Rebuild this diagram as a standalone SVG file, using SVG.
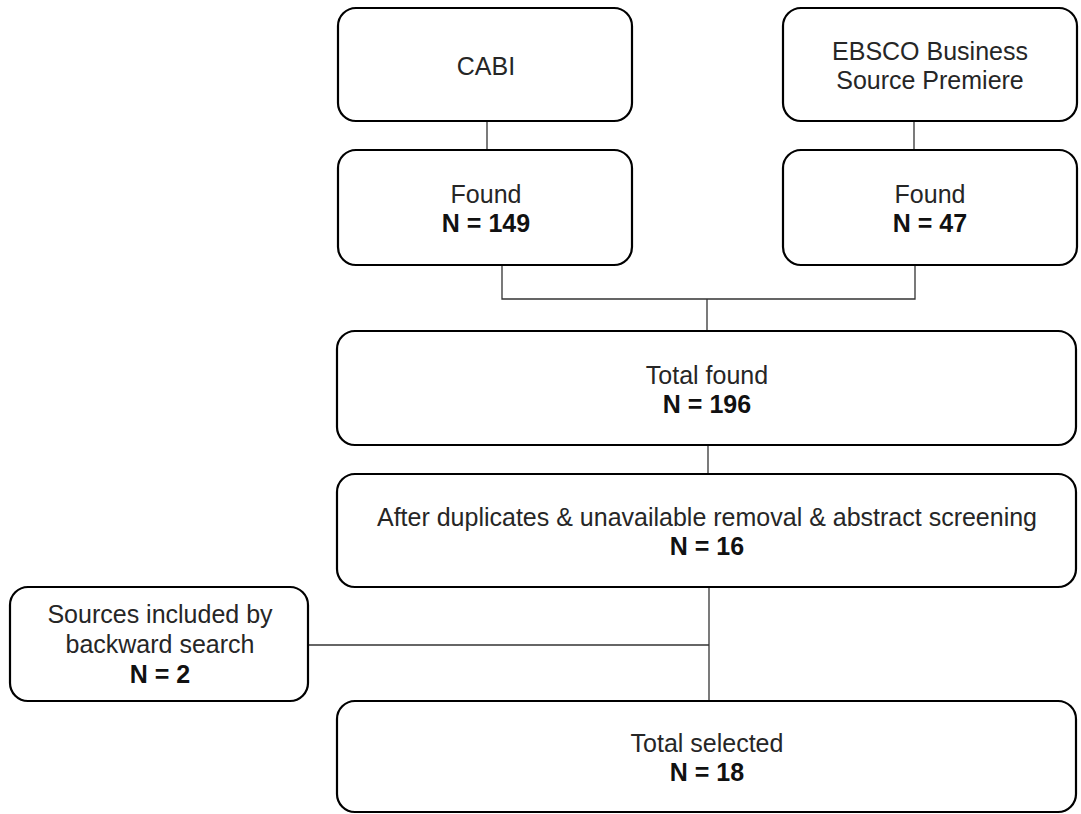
<svg xmlns="http://www.w3.org/2000/svg" width="1081" height="814" viewBox="0 0 1081 814">
<style>
.box{fill:#fff;stroke:#000;stroke-width:2.2}
.t{font-family:"Liberation Sans",Arial,sans-serif;font-size:25px;fill:#262626;text-anchor:middle}
.b{font-weight:bold;fill:#111}
.c{fill:none;stroke:#333;stroke-width:1.3}
</style>
<rect width="1081" height="814" fill="#fff"/>
<g id="connectors">
<line class="c" x1="487" y1="121" x2="487" y2="150"/>
<line class="c" x1="914" y1="121" x2="914" y2="150"/>
<polyline class="c" points="502,265 502,299 915,299 915,265"/>
<line class="c" x1="707" y1="299" x2="707" y2="331"/>
<line class="c" x1="708" y1="445" x2="708" y2="474"/>
<line class="c" x1="709" y1="587" x2="709" y2="701"/>
<line class="c" x1="308" y1="645" x2="709" y2="645"/>
</g>
<g id="cabi">
<rect class="box" x="338" y="8" width="294" height="113" rx="18"/>
<text class="t" x="486" y="75">CABI</text>
</g>
<g id="ebsco">
<rect class="box" x="783" y="8" width="294" height="113" rx="18"/>
<text class="t" x="930" y="60">EBSCO Business</text>
<text class="t" x="930" y="89">Source Premiere</text>
</g>
<g id="found-cabi">
<rect class="box" x="338" y="150" width="294" height="115" rx="18"/>
<text class="t" x="486" y="203">Found</text>
<text class="t b" x="486" y="232">N = 149</text>
</g>
<g id="found-ebsco">
<rect class="box" x="783" y="150" width="294" height="115" rx="18"/>
<text class="t" x="930" y="203">Found</text>
<text class="t b" x="930" y="232">N = 47</text>
</g>
<g id="total-found">
<rect class="box" x="337" y="331" width="739" height="114" rx="18"/>
<text class="t" x="707" y="384">Total found</text>
<text class="t b" x="707" y="413">N = 196</text>
</g>
<g id="after-screening">
<rect class="box" x="337" y="474" width="739" height="113" rx="18"/>
<text class="t" x="707" y="526">After duplicates &amp; unavailable removal &amp; abstract screening</text>
<text class="t b" x="707" y="555">N = 16</text>
</g>
<g id="backward-search">
<rect class="box" x="10" y="587" width="298" height="114" rx="18"/>
<text class="t" x="160" y="623">Sources included by</text>
<text class="t" x="160" y="653">backward search</text>
<text class="t b" x="160" y="683">N = 2</text>
</g>
<g id="total-selected">
<rect class="box" x="337" y="701" width="739" height="111" rx="18"/>
<text class="t" x="707" y="752">Total selected</text>
<text class="t b" x="707" y="781">N = 18</text>
</g>
</svg>
